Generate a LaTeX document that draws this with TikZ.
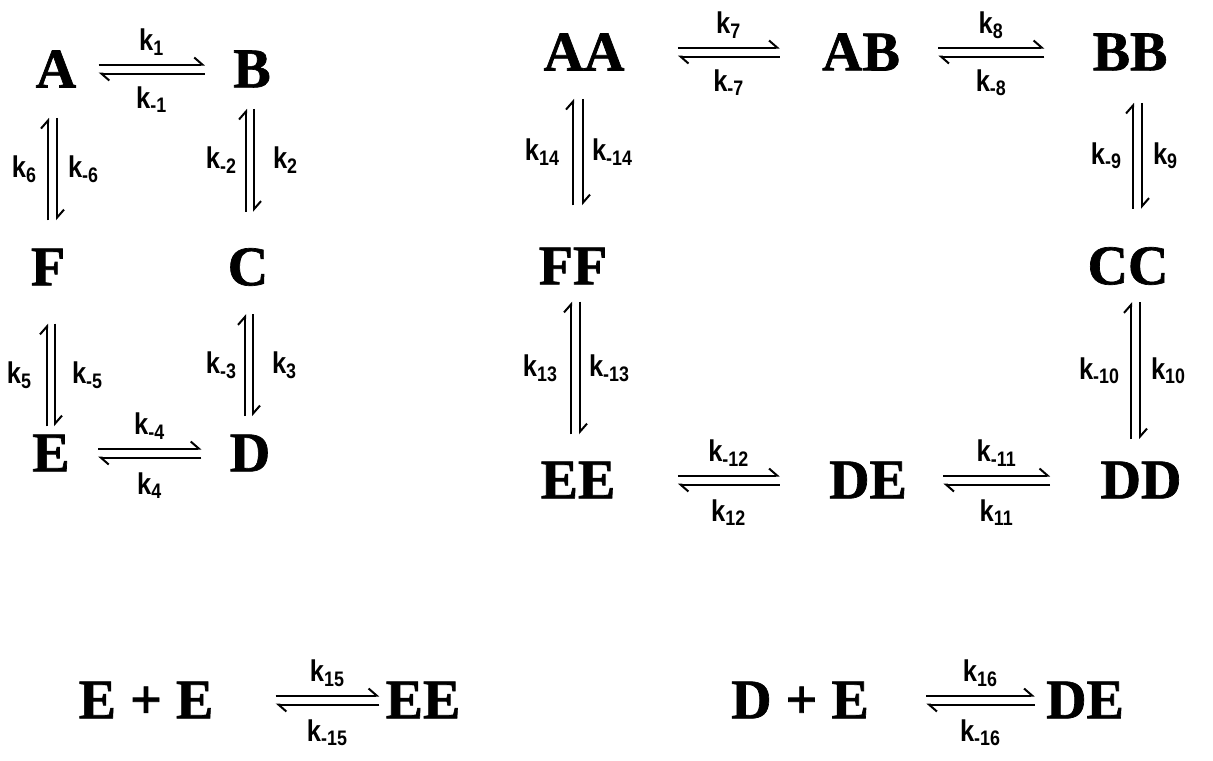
\documentclass[tikz,border=0pt]{standalone}
\usepackage{fontspec}
\usepackage{tikz}
\usetikzlibrary{arrows.meta, calc, positioning}
\newfontfamily\spfont[FakeBold=1.2]{Liberation Serif}
\newfontfamily\kfont[FakeStretch=0.85]{Liberation Sans}
\tikzstyle{species} = [inner sep=0pt, font=\spfont\bfseries\fontsize{28}{30}\selectfont]
\tikzstyle{rate}    = [inner sep=0pt, font=\kfont\bfseries\fontsize{15}{16}\selectfont]
\tikzstyle{harp}    = [line width=1pt, -{Straight Barb[left,length=4pt,width=7pt]}]

\begin{document}
\begin{tikzpicture}[x=0.5pt, y=-0.5pt]
  \useasboundingbox (0,0) rectangle (1213,760);

  % monomer square
  \node[species] (A) at (56,69)   {A};
  \node[species] (B) at (252,69)  {B};
  \node[species] (F) at (48,267)  {F};
  \node[species] (C) at (248,267) {C};
  \node[species] (E) at (51,453)  {E};
  \node[species] (D) at (250,453) {D};

  \draw[harp] ($(A.east)+(22,-4.5)$) -- node[rate,above=4pt]{k\textsubscript{1}} ($(B.west)+(-28,-4.5)$);
  \draw[harp] ($(B.west)+(-28,4.5)$) -- node[rate,below=6pt]{k\textsubscript{-1}} ($(A.east)+(22,4.5)$);

  \draw[harp] ($(F.north)+(0,-28)$) -- node[rate,left=5pt]{k\textsubscript{6}} ($(A.south)+(-8,30)$);
  \draw[harp] ($(A.south)+(1,30)$) -- node[rate,right=5pt]{k\textsubscript{-6}} ($(F.north)+(9,-28)$);

  \draw[harp] ($(C.north)+(-2,-36)$) -- node[rate,left=4pt]{k\textsubscript{-2}} ($(B.south)+(-6,21)$);
  \draw[harp] ($(B.south)+(2,21)$) -- node[rate,right=9pt]{k\textsubscript{2}} ($(C.north)+(6,-36)$);

  \draw[harp] ($(E.north)+(-4,-8)$) -- node[rate,left=7pt]{k\textsubscript{5}} ($(F.south)+(-1,38)$);
  \draw[harp] ($(F.south)+(7,38)$) -- node[rate,right=8pt]{k\textsubscript{-5}} ($(E.north)+(4,-8)$);

  \draw[harp] ($(D.north)+(-5,-18)$) -- node[rate,left=3.5pt]{k\textsubscript{-3}} ($(C.south)+(-3,28)$);
  \draw[harp] ($(C.south)+(5,28)$) -- node[rate,right=9pt]{k\textsubscript{3}} ($(D.north)+(3,-18)$);

  \draw[harp] ($(E.east)+(28,-4.5)$) -- node[rate,above=4pt]{k\textsubscript{-4}} ($(D.west)+(-28,-4.5)$);
  \draw[harp] ($(D.west)+(-28,4.5)$) -- node[rate,below=7pt]{k\textsubscript{4}} ($(E.east)+(28,4.5)$);

  % dimer square
  \node[species] (AA) at (584,52)   {AA};
  \node[species] (AB) at (861,52)   {AB};
  \node[species] (BB) at (1130,52)  {BB};
  \node[species] (FF) at (573,266)  {FF};
  \node[species] (CC) at (1128,266) {CC};
  \node[species] (EE) at (578,480)  {EE};
  \node[species] (DE) at (868,480)  {DE};
  \node[species] (DD) at (1141,480) {DD};

  \draw[harp] ($(AA.east)+(53,-4.5)$) -- node[rate,above=4pt]{k\textsubscript{7}} ($(AB.west)+(-42,-4.5)$);
  \draw[harp] ($(AB.west)+(-42,4.5)$) -- node[rate,below=6pt]{k\textsubscript{-7}} ($(AA.east)+(53,4.5)$);

  \draw[harp] ($(AB.east)+(38,-4.5)$) -- node[rate,above=4pt]{k\textsubscript{8}} ($(BB.west)+(-48,-4.5)$);
  \draw[harp] ($(BB.west)+(-48,4.5)$) -- node[rate,below=6pt]{k\textsubscript{-8}} ($(AB.east)+(38,4.5)$);

  \draw[harp] ($(FF.north)+(0,-42)$) -- node[rate,left=6pt]{k\textsubscript{14}} ($(AA.south)+(-11,28)$);
  \draw[harp] ($(AA.south)+(-1,28)$) -- node[rate,right=4pt]{k\textsubscript{-14}} ($(FF.north)+(10,-42)$);

  \draw[harp] ($(CC.north)+(5,-38)$) -- node[rate,left=5pt]{k\textsubscript{-9}} ($(BB.south)+(3,32)$);
  \draw[harp] ($(BB.south)+(12,32)$) -- node[rate,right=5pt]{k\textsubscript{9}} ($(CC.north)+(14,-38)$);

  \draw[harp] ($(EE.north)+(-7,-27)$) -- node[rate,left=6pt]{k\textsubscript{13}} ($(FF.south)+(-2,17)$);
  \draw[harp] ($(FF.south)+(7,17)$) -- node[rate,right=4pt]{k\textsubscript{-13}} ($(EE.north)+(2,-27)$);

  \draw[harp] ($(DD.north)+(-10,-22)$) -- node[rate,left=5pt]{k\textsubscript{-10}} ($(CC.south)+(3,17)$);
  \draw[harp] ($(CC.south)+(12,17)$) -- node[rate,right=5pt]{k\textsubscript{10}} ($(DD.north)+(-1,-22)$);

  \draw[harp] ($(EE.east)+(62,-4.5)$) -- node[rate,above=4pt]{k\textsubscript{-12}} ($(DE.west)+(-49,-4.5)$);
  \draw[harp] ($(DE.west)+(-49,4.5)$) -- node[rate,below=7pt]{k\textsubscript{12}} ($(EE.east)+(62,4.5)$);

  \draw[harp] ($(DE.east)+(36,-4.5)$) -- node[rate,above=4pt]{k\textsubscript{-11}} ($(DD.west)+(-50,-4.5)$);
  \draw[harp] ($(DD.west)+(-50,4.5)$) -- node[rate,below=7pt]{k\textsubscript{11}} ($(DE.east)+(36,4.5)$);

  % association steps
  \node[species] (sumEE)  at (146,700)  {E + E};
  \node[species] (prodEE) at (423,700)  {EE};
  \node[species] (sumDE)  at (800,700)  {D + E};
  \node[species] (prodDE) at (1085,700) {DE};

  \draw[harp] ($(sumEE.east)+(62,-4.5)$) -- node[rate,above=4pt]{k\textsubscript{15}} ($(prodEE.west)+(-6,-4.5)$);
  \draw[harp] ($(prodEE.west)+(-6,4.5)$) -- node[rate,below=7pt]{k\textsubscript{-15}} ($(sumEE.east)+(62,4.5)$);

  \draw[harp] ($(sumDE.east)+(57,-4.5)$) -- node[rate,above=4pt]{k\textsubscript{16}} ($(prodDE.west)+(-11,-4.5)$);
  \draw[harp] ($(prodDE.west)+(-11,4.5)$) -- node[rate,below=7pt]{k\textsubscript{-16}} ($(sumDE.east)+(57,4.5)$);
\end{tikzpicture}
\end{document}
